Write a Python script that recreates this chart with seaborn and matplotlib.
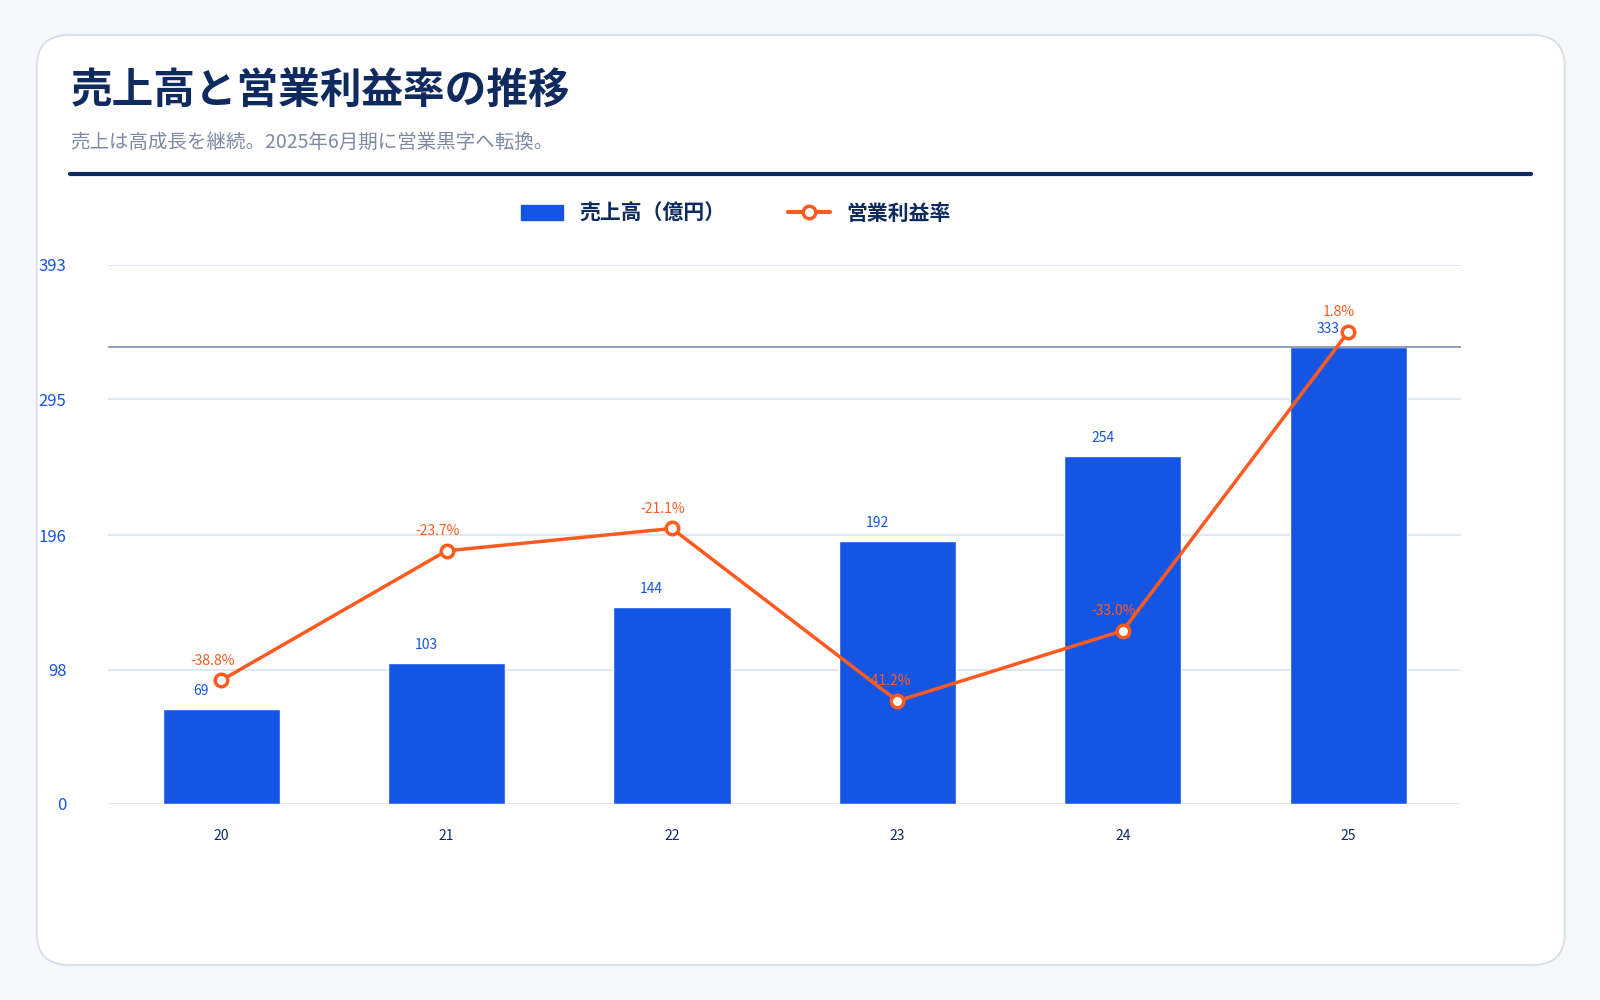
import matplotlib
matplotlib.use("Agg")
import numpy as np
import pandas as pd
import seaborn as sns
import matplotlib.pyplot as plt
from matplotlib.patches import FancyBboxPatch
from matplotlib.lines import Line2D
from matplotlib.patches import Patch

# data
years = ["20", "21", "22", "23", "24", "25"]
sales = [69, 103, 144, 192, 254, 333]
margin = [-38.8, -23.7, -21.1, -41.2, -33.0, 1.8]
yticks = [0, 98, 196, 295, 393]

sns.set_theme(style="white")
plt.rcParams["font.family"] = ["Noto Sans CJK JP", "DejaVu Sans"]

navy = "#0f2a5e"
blue = "#1555e4"
orange = "#ff5a1f"

fig = plt.figure(figsize=(16, 10), dpi=100)
fig.patch.set_facecolor("#f5f7fb")
card = FancyBboxPatch((0.023, 0.035), 0.955, 0.93, boxstyle="round,pad=0,rounding_size=0.02",
                      transform=fig.transFigure, facecolor="white", edgecolor="#d3dcea", lw=1.2,
                      mutation_aspect=1.6, zorder=-10)
fig.patches.append(card)

fig.text(0.044, 0.908, "売上高と営業利益率の推移", fontsize=30, fontweight="bold", color=navy, va="center")
fig.text(0.044, 0.858, "売上は高成長を継続。2025年6月期に営業黒字へ転換。", fontsize=14, color="#7d8aa3", va="center")
fig.add_artist(Line2D([0.044, 0.957], [0.826, 0.826], color=navy, lw=3, transform=fig.transFigure))

ax = fig.add_axes([0.0675, 0.196, 0.8456, 0.539])
ax.set_facecolor("none")
df = pd.DataFrame({"year": years, "sales": sales})
sns.barplot(data=df, x="year", y="sales", color=blue, width=0.52, saturation=1, ax=ax)
ax.set_ylim(0, 393)
ax.set_xlim(-0.502, 5.5)
ax.set_yticks(yticks)
ax.set_yticklabels([str(t) for t in yticks], color=blue, fontsize=12)
ax.yaxis.grid(True, color="#dbe3ee", lw=1.2)
ax.set_axisbelow(True)
ax.tick_params(axis="y", length=0, pad=30)
ax.tick_params(axis="x", length=0, pad=18, labelsize=10, labelcolor=navy)
ax.set_xlabel("")
ax.set_ylabel("")
for s in ax.spines.values():
    s.set_visible(False)
ax.axhline(max(sales), color="#8a96ad", lw=1.3)
for i, v in enumerate(sales):
    ax.text(i - 0.09, v + 8, str(v), ha="center", va="bottom", fontsize=10, color=blue)

ax2 = ax.twinx()
ax2.set_facecolor("none")
ax2.set_ylim(-53.2, 9.6)
ax2.set_yticks([])
for s in ax2.spines.values():
    s.set_visible(False)
sns.lineplot(x=np.arange(len(years)), y=margin, color=orange, lw=2.5, marker="o", markersize=9,
             markerfacecolor="white", markeredgecolor=orange, markeredgewidth=2.5, ax=ax2)
for i, v in enumerate(margin):
    ax2.text(i - 0.04, v + 1.5, f"{v:.1f}%", ha="center", va="bottom", fontsize=10, color=orange)

handles = [Patch(facecolor=blue, edgecolor=blue, label="売上高（億円）"),
           Line2D([0], [0], color=orange, lw=3, marker="o", markerfacecolor="white",
                  markeredgecolor=orange, markeredgewidth=2.5, markersize=9, label="営業利益率")]
leg = fig.legend(handles=handles, loc="center", bbox_to_anchor=(0.46, 0.787), ncol=2, frameon=False,
                 columnspacing=3, handlelength=2, prop={"weight": "bold", "size": 15})
for t in leg.get_texts():
    t.set_color(navy)

fig.savefig("out.png", dpi=100, facecolor=fig.get_facecolor())
